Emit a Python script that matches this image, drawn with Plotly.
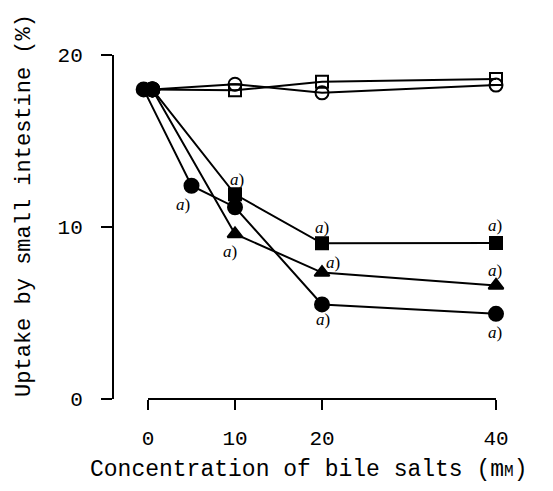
import plotly.graph_objects as go

# concentration of bile salts (mM)
conc_std = [0.5, 10, 20, 40]
conc_circle = [-0.5, 5, 10, 20, 40]

# uptake by small intestine (%)
open_circle = [18.0, 18.3, 17.8, 18.25]
open_square = [18.0, 17.95, 18.45, 18.6]
filled_square = [18.0, 11.9, 9.05, 9.07]
filled_triangle = [18.0, 9.6, 7.35, 6.6]
filled_circle = [18.0, 12.4, 11.15, 5.5, 4.95]

# "a)" significance marks (x, y in data units)
sig_x = [4.0, 10.2, 9.4, 20.0, 21.3, 20.1, 39.9, 39.9, 39.9]
sig_y = [11.3, 12.75, 8.55, 9.95, 7.95, 4.6, 10.1, 7.5, 3.85]

FONT = "Liberation Mono, Courier New, monospace"
LINE = dict(color="black", width=2)

fig = go.Figure()

series = [
    (conc_std, open_circle, "circle-open", 13),
    (conc_std, open_square, "square-open", 12),
    (conc_std, filled_square, "square", 12),
    (conc_std, filled_triangle, "triangle-up", 13),
    (conc_circle, filled_circle, "circle", 14),
]
for xs, ys, sym, size in series:
    symbols = ["circle"] + [sym] * (len(xs) - 1)
    fig.add_trace(go.Scatter(
        x=xs, y=ys,
        mode="lines+markers",
        line=LINE,
        marker=dict(symbol=symbols, size=[14] + [size] * (len(xs) - 1),
                    opacity=1, color="black", line=dict(color="black", width=2)),
        cliponaxis=False,
        showlegend=False,
    ))

for x, y in zip(sig_x, sig_y):
    fig.add_annotation(
        x=x, y=y, xref="x", yref="y", text="<i>a</i>)", showarrow=False,
        font=dict(family="Liberation Serif, Times New Roman, serif", size=17, color="black"),
    )

# page body adds an 8px margin, so the figure is 8px smaller on each side
fig.add_annotation(
    x=0.512, y=-0.206, xref="paper", yref="paper", showarrow=False,
    xanchor="center", yanchor="middle",
    text="Concentration of bile salts (m<span style='font-size:16px'>M</span>)",
    font=dict(family=FONT, size=23, color="black"),
)
fig.add_annotation(
    x=-0.23, y=0.564, xref="paper", yref="paper", showarrow=False, textangle=-90,
    xanchor="center", yanchor="middle",
    text="Uptake by small intestine (%)",
    font=dict(family=FONT, size=22, color="black"),
)

# x range reaches a little left of 0 so the first marker is not hidden;
# the drawn x axis line covers only the 0..40 part
x0_dom = 35 / 383
x_lo = -0.6
data_dom0 = x0_dom + x_lo * (1 - x0_dom) / 40
fig.add_shape(type="line", xref="paper", yref="paper",
              x0=x0_dom, x1=1, y0=0, y1=0, line=dict(color="black", width=2))

fig.update_layout(
    width=545, height=483,
    margin=dict(l=105, r=57, t=47, b=92),
    paper_bgcolor="white", plot_bgcolor="white",
    font=dict(family=FONT, size=21, color="black"),
    xaxis=dict(
        domain=[data_dom0, 1], range=[x_lo, 40], tickvals=[0, 10, 20, 40],
        showline=False, ticks="outside", ticklen=10, tickwidth=2, tickcolor="black",
        showgrid=False, zeroline=False, ticklabelstandoff=10,
    ),
    yaxis=dict(
        anchor="free", position=0, range=[0, 20], tickvals=[0, 10, 20],
        showline=True, linecolor="black", linewidth=2,
        ticks="outside", ticklen=11, tickwidth=2, tickcolor="black",
        showgrid=False, zeroline=False, ticklabelstandoff=14,
    ),
)

fig.write_html("out.html")
